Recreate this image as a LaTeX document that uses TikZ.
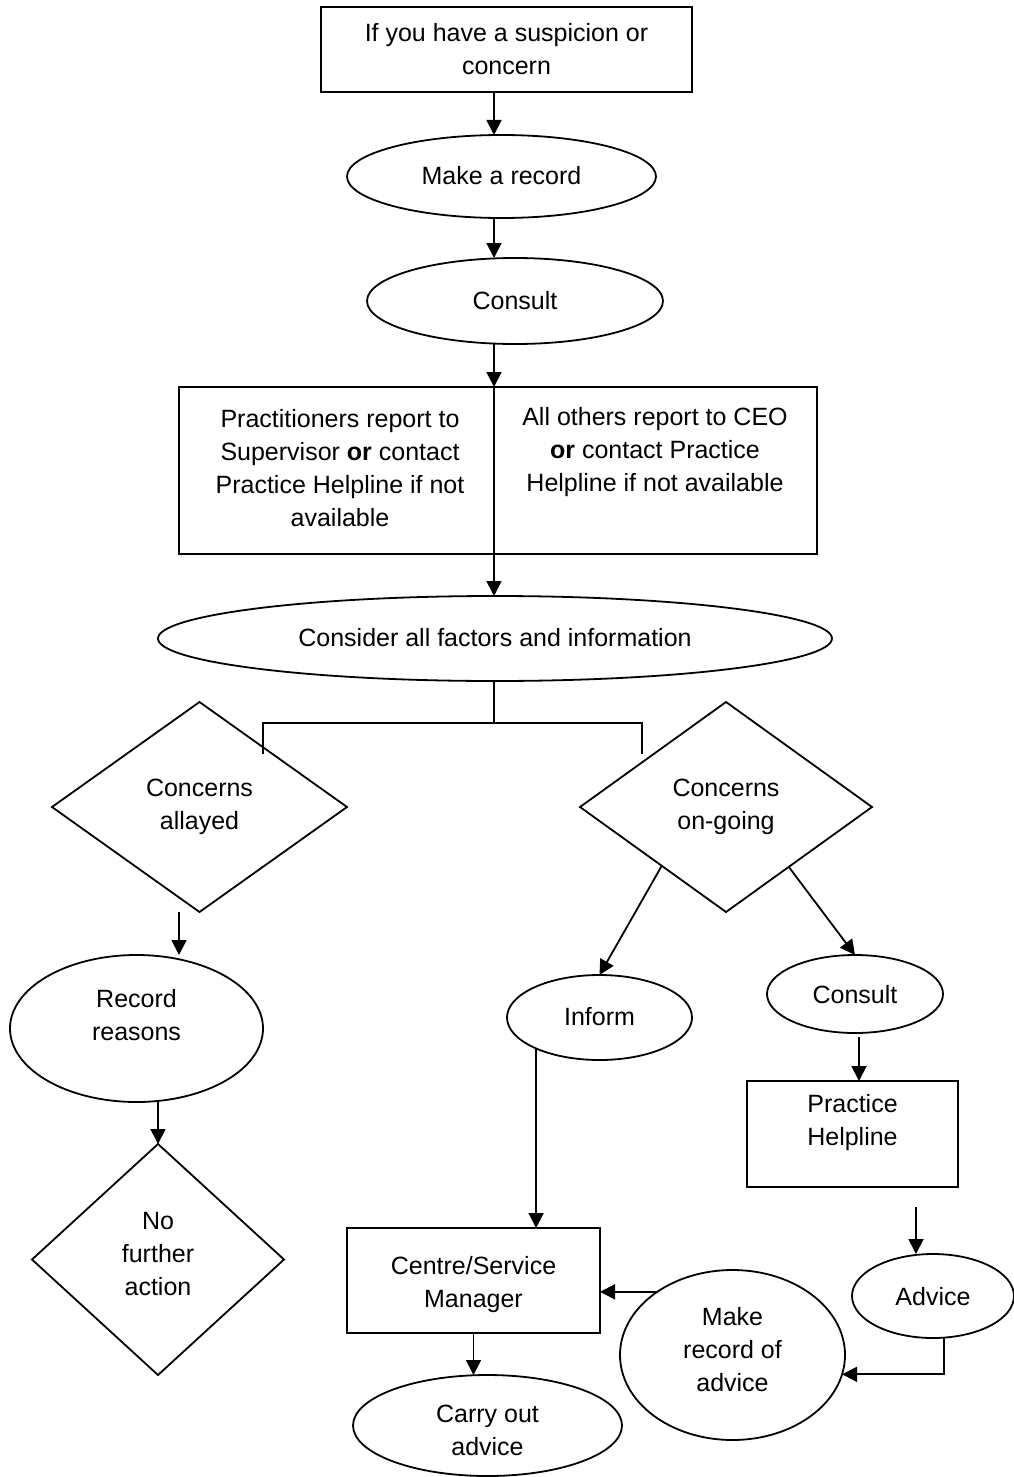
\documentclass[tikz,border=0pt]{standalone}
\usepackage{fontspec}
\setmainfont{Liberation Sans}
\usetikzlibrary{shapes.geometric,arrows.meta,calc}
\begin{document}
\begin{tikzpicture}[x=1pt,y=-1pt,
  shp/.style={draw=black, line width=1.8pt, inner sep=0pt, outer sep=0pt},
  box/.style={shp, rectangle},
  ell/.style={shp, ellipse},
  dia/.style={shp, diamond},
  txt/.style={align=center, font=\fontsize{25}{33}\selectfont, inner sep=0pt},
  arr/.style={line width=1.8pt, -{Triangle[length=15pt,width=15pt]}},
  ln/.style={line width=1.8pt}]
\useasboundingbox (0,0) rectangle (1013,1477);

% shapes
\node[box, minimum width=371pt, minimum height=85pt] (tb) at (506.5,49.5) {};
\node[ell, minimum width=309pt, minimum height=83pt] (mar) at (501.5,176.5) {};
\node[ell, minimum width=296pt, minimum height=86pt] (con1) at (515,301) {};
\node[box, minimum width=638pt, minimum height=167pt] (rep) at (498,470.5) {};
\node[ell, minimum width=674pt, minimum height=85pt] (cons) at (495,638.5) {};
\node[dia, minimum width=295pt, minimum height=210pt] (al) at (199.5,807) {};
\node[dia, minimum width=292pt, minimum height=210pt] (ong) at (726,807) {};
\node[ell, minimum width=253pt, minimum height=147pt] (rr) at (136.5,1028.5) {};
\node[dia, minimum width=252pt, minimum height=231pt] (nfa) at (158,1259.5) {};
\node[ell, minimum width=185pt, minimum height=85pt] (inf) at (599.5,1017.5) {};
\node[ell, minimum width=176pt, minimum height=78pt] (con2) at (855,994) {};
\node[box, minimum width=211pt, minimum height=106pt] (ph) at (852.5,1134) {};
\node[ell, minimum width=162pt, minimum height=84pt] (adv) at (933,1296) {};
\node[ell, minimum width=225pt, minimum height=170pt] (mra) at (732.5,1355) {};
\node[box, minimum width=253pt, minimum height=105pt] (csm) at (473.5,1280.5) {};
\node[ell, minimum width=269pt, minimum height=101pt] (cao) at (487.5,1425.5) {};

% texts
\node[txt] (tbt) at (506.5,49.5) {If you have a suspicion or\\concern};
\node[txt] (mart) at (501.5,176) {Make a record};
\node[txt] (con1t) at (515,301) {Consult};
\node[txt] (repl) at (340,468.5) {Practitioners report to\\Supervisor \textbf{or} contact\\Practice Helpline if not\\available};
\node[txt] (repr) at (655,452) {All others report to CEO\\\textbf{or} contact Practice\\Helpline if not available};
\node[txt] (const) at (495,638) {Consider all factors and information};
\node[txt] (alt) at (199.5,806.5) {Concerns\\allayed};
\node[txt] (ongt) at (726,806.5) {Concerns\\on-going};
\node[txt] (rrt) at (136.5,1015) {Record\\reasons};
\node[txt] (nfat) at (158,1254.5) {No\\further\\action};
\node[txt] (inft) at (599.5,1017) {Inform};
\node[txt] (con2t) at (855,995) {Consult};
\node[txt] (pht) at (852.5,1122.5) {Practice\\Helpline};
\node[txt] (advt) at (933,1297) {Advice};
\node[txt] (mrat) at (732.5,1350) {Make\\record of\\advice};
\node[txt] (csmt) at (473.5,1284.5) {Centre/Service\\Manager};
\node[txt] (caot) at (487.5,1430) {Carry out\\advice};

% connectors
\coordinate (cx) at (494,0);
\coordinate (j) at (494,723);
\coordinate (bl) at (263,754);
\coordinate (br) at (642,754);
\draw[arr] (tb.south -| cx) -- (mar.north -| cx);
\draw[arr] (mar.south -| cx) -- (con1.north -| cx);
\draw[arr] (con1.south -| cx) -- (rep.north -| cx);
\draw[arr] (rep.north -| cx) -- (cons.north -| cx);
\draw[ln] (cons.south -| cx) -- (j);
\draw[ln] (bl) -- (bl |- j) -- (br |- j) -- (br);
\draw[arr] ($(al.south)+(-20.5,0)$) -- ($(rr.north)+(42.5,0)$);
\draw[arr] (rr.south -| nfa.north) -- (nfa.north);
\draw[arr] ($(ong.west)!0.56!(ong.south)$) -- (inf.north);
\draw[arr] ($(ong.south)!0.43!(ong.east)$) -- (con2.north);
\draw[arr] ($(con2.south)+(4,4)$) -- ($(ph.north)+(6.5,0)$);
\draw[arr] ($(ph.south)+(63.5,20)$) -- ($(adv.north)+(-17,0)$);
\draw[arr] ($(adv.south)+(11,0)$) |- (mra.-10);
\draw[arr] (mra.140) -- (mra.140 -| csm.east);
\draw[arr] (inf.206.7) -- (inf.206.7 |- csm.north);
\draw[arr] (csm.south) -- (csm.south |- cao.north);
\end{tikzpicture}
\end{document}
